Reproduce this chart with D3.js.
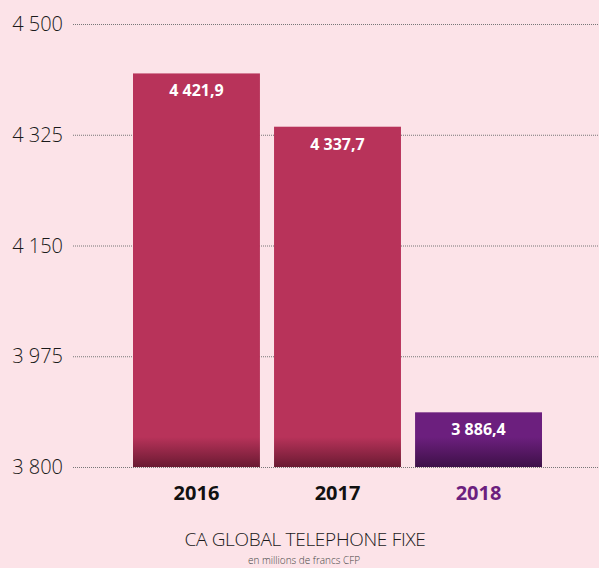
<!DOCTYPE html>
<html>
<head>
<meta charset="utf-8">
<script src="https://cdn.jsdelivr.net/npm/d3@7"></script>
<style>
  html, body { margin: 0; padding: 0; background: #fce3e8; }
  svg { display: block; font-family: 'Open Sans', sans-serif; }
</style>
</head>
<body>
<div id="chart"></div>
<script>
const years = ['2016', '2017', '2018'];
const values = [4421.9, 4337.7, 3886.4];
const valueLabels = ['4 421,9', '4 337,7', '3 886,4'];
const ticks = [3800, 3975, 4150, 4325, 4500];
const tickLabels = ['3 800', '3 975', '4 150', '4 325', '4 500'];
const barColors = ['#b8335a', '#b8335a', '#6c1f7e'];
const darkColors = ['#6a1a32', '#6a1a32', '#3e1048'];
const yearColors = ['#111111', '#111111', '#6c1f7e'];

const width = 599;
const height = 568;

const svg = d3.select('#chart')
  .append('svg')
  .attr('width', width)
  .attr('height', height);

svg.append('rect')
  .attr('width', width)
  .attr('height', height)
  .attr('fill', '#fce3e8');

const x = d3.scaleBand()
  .domain(years)
  .range([133, 542])
  .paddingInner(0.1)
  .paddingOuter(0);

const y = d3.scaleLinear()
  .domain([3800, 4500])
  .range([467, 24]);

// gradients
const defs = svg.append('defs');
years.forEach((yr, i) => {
  const g = defs.append('linearGradient')
    .attr('id', 'grad' + i)
    .attr('gradientUnits', 'userSpaceOnUse')
    .attr('x1', 0).attr('x2', 0)
    .attr('y1', y(3800) - 30).attr('y2', y(3800));
  g.append('stop').attr('offset', '0%').attr('stop-color', barColors[i]);
  g.append('stop').attr('offset', '100%').attr('stop-color', darkColors[i]);
});

// grid lines
svg.append('g')
  .selectAll('line')
  .data(ticks)
  .join('line')
  .attr('x1', 73)
  .attr('x2', width)
  .attr('y1', d => y(d) + 0.5)
  .attr('y2', d => y(d) + 0.5)
  .attr('stroke', '#777')
  .attr('stroke-width', 1)
  .attr('stroke-dasharray', '1,1');

svg.append('g')
  .selectAll('text')
  .data(ticks)
  .join('text')
  .attr('x', 63)
  .attr('y', d => y(d) + 7)
  .attr('text-anchor', 'end')
  .attr('fill', '#1a1a1a')
  .style('font-size', '20px')
  .style('font-weight', 300)
  .text((d, i) => tickLabels[i]);

// bars
svg.append('g')
  .selectAll('rect')
  .data(values)
  .join('rect')
  .attr('x', (d, i) => x(years[i]))
  .attr('width', x.bandwidth())
  .attr('y', d => y(d))
  .attr('height', d => y(3800) - y(d))
  .attr('fill', (d, i) => `url(#grad${i})`);

// value labels
svg.append('g')
  .selectAll('text')
  .data(values)
  .join('text')
  .attr('x', (d, i) => x(years[i]) + x.bandwidth() / 2)
  .attr('y', d => y(d) + 23)
  .attr('text-anchor', 'middle')
  .attr('fill', '#fff')
  .style('font-size', '16px')
  .style('font-weight', 700)
  .text((d, i) => valueLabels[i]);

// year labels
svg.append('g')
  .selectAll('text')
  .data(years)
  .join('text')
  .attr('x', d => x(d) + x.bandwidth() / 2)
  .attr('y', 500)
  .attr('text-anchor', 'middle')
  .attr('fill', (d, i) => yearColors[i])
  .style('font-size', '20px')
  .style('font-weight', 700)
  .text(d => d);

svg.append('text')
  .attr('x', 305)
  .attr('y', 546)
  .attr('text-anchor', 'middle')
  .attr('fill', '#1a1a1a')
  .style('font-size', '19px')
  .style('font-weight', 300)
  .style('letter-spacing', '-0.3px')
  .text('CA GLOBAL TELEPHONE FIXE');

svg.append('text')
  .attr('x', 304)
  .attr('y', 564)
  .attr('text-anchor', 'middle')
  .attr('fill', '#444')
  .style('font-size', '10px')
  .style('font-weight', 300)
  .text('en millions de francs CFP');
</script>
</body>
</html>
